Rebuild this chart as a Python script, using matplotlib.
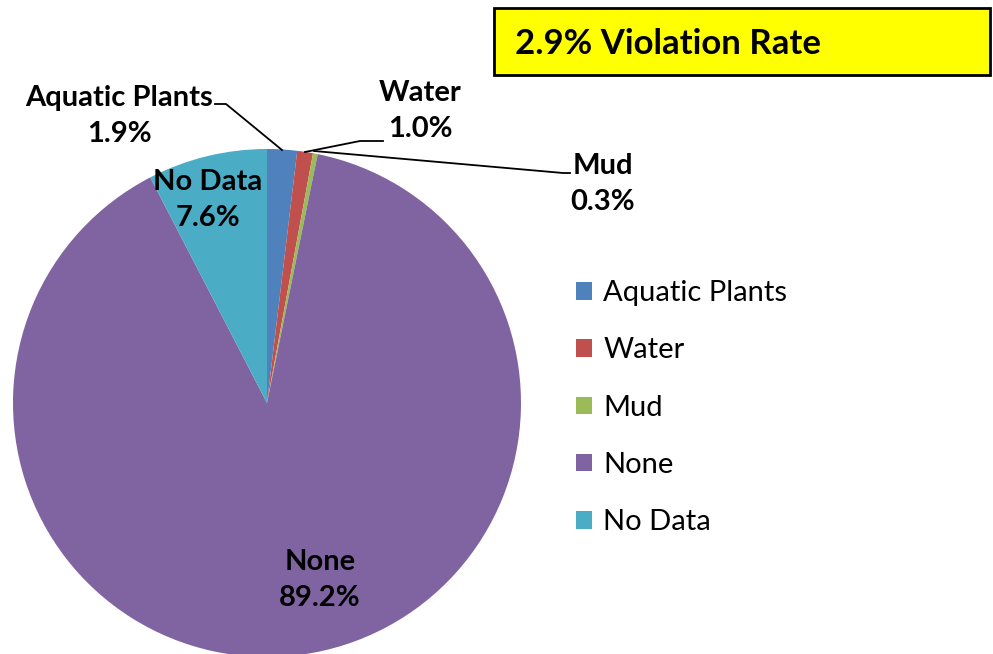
import matplotlib
matplotlib.use("Agg")
import matplotlib.pyplot as plt
from matplotlib.patches import Rectangle

categories = ["Aquatic Plants", "Water", "Mud", "None", "No Data"]
values = [1.9, 1.0, 0.3, 89.2, 7.6]
colors = ["#4F81BD", "#C0504D", "#9BBB59", "#8064A2", "#4BACC6"]
title_text = "2.9% Violation Rate"

plt.rcParams['font.family'] = ['Lato', 'DejaVu Sans']

W, H = 993, 654
fig = plt.figure(figsize=(W / 100, H / 100), dpi=100)
ax = fig.add_axes([0, 0, 1, 1])

def py(y):
    return H - y

cx, cy, r = 267, 403, 254
wedges, _ = ax.pie(values, colors=colors, startangle=90, counterclock=False,
                   center=(cx, py(cy)), radius=r, frame=True,
                   wedgeprops=dict(linewidth=0))
ax.set_xlim(0, W)
ax.set_ylim(0, H)
ax.set_aspect('equal')
ax.axis('off')

lab_fs = 21
def lbl(text, x, y):
    ax.text(x, py(y), text, ha='center', va='center', fontsize=lab_fs,
            fontweight='bold', linespacing=1.45)

lbl(f"{categories[0]}\n{values[0]:.1f}%", 119, 116)
lbl(f"{categories[1]}\n{values[1]:.1f}%", 420, 111)
lbl(f"{categories[2]}\n{values[2]:.1f}%", 603, 184)
lbl(f"{categories[4]}\n{values[4]:.1f}%", 208, 200)
lbl(f"{categories[3]}\n{values[3]:.1f}%", 320, 580)

# leader lines
ax.plot([215, 226, 282], [py(104), py(104), py(150)], color='black', lw=1.3)
ax.plot([383, 360, 305], [py(141), py(141), py(152)], color='black', lw=1.3)
ax.plot([570, 563, 314], [py(173), py(173), py(151)], color='black', lw=1.3)

# title box
ax.add_patch(Rectangle((494, py(75)), 496, 67, facecolor='#FFFF00',
                       edgecolor='black', lw=2, zorder=3))
ax.text(515, py(44), title_text, ha='left', va='center', fontsize=25,
        fontweight='bold', zorder=4)

leg = ax.legend(wedges, categories, loc='upper left',
                bbox_to_anchor=(550 / W, 1 - 254 / H), frameon=False,
                fontsize=21, handlelength=0.55, handleheight=0.55,
                handletextpad=0.38, labelspacing=1.07)

fig.savefig("out.png", dpi=100)
